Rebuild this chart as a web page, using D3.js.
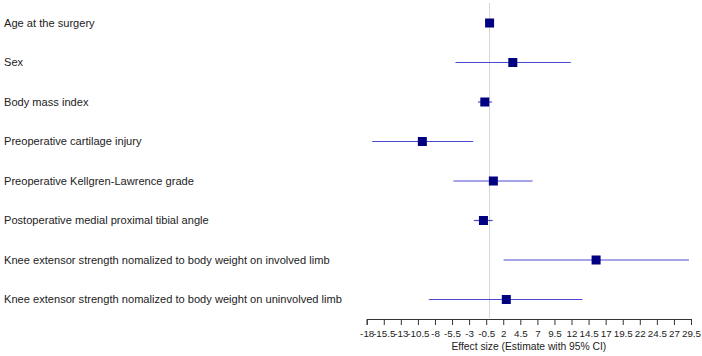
<!DOCTYPE html>
<html>
<head>
<meta charset="utf-8">
<script src="https://cdn.jsdelivr.net/npm/d3@7"></script>
<style>
  body { margin: 0; background: #fff; }
  text { font-family: "Liberation Sans", Arial, sans-serif; }
</style>
</head>
<body>
<div id="chart"></div>
<script>
// data
const labels = [
  "Age at the surgery",
  "Sex",
  "Body mass index",
  "Preoperative cartilage injury",
  "Preoperative Kellgren-Lawrence grade",
  "Postoperative medial proximal tibial angle",
  "Knee extensor strength nomalized to body weight on involved limb",
  "Knee extensor strength nomalized to body weight on uninvolved limb"
];
const estimates = [0.0, 3.4, -0.7, -9.85, 0.55, -0.9, 15.6, 2.45];
const lower = [-0.1, -5.0, -1.7, -17.2, -5.3, -2.3, 2.05, -8.9];
const upper = [0.1, 11.9, 0.35, -2.4, 6.3, 0.45, 29.2, 13.6];
const tickValues = [-18, -15.5, -13, -10.5, -8, -5.5, -3, -0.5, 2, 4.5, 7, 9.5, 12, 14.5, 17, 19.5, 22, 24.5, 27, 29.5];

const width = 702, height = 356;

const svg = d3.select("#chart")
  .append("svg")
  .attr("width", width)
  .attr("height", height);

// scales
const x = d3.scaleLinear().domain([-18, 29.5]).range([366.7, 691]);
const y = d3.scalePoint().domain(labels).range([23, 299.5]);

// reference line at zero
svg.append("line")
  .attr("x1", x(0)).attr("x2", x(0))
  .attr("y1", 3).attr("y2", 318)
  .style("stroke", "#d4d4d4")
  .style("stroke-width", 1);

// row labels
svg.selectAll("text.lab")
  .data(labels)
  .enter()
  .append("text")
  .attr("class", "lab")
  .attr("x", 4)
  .attr("y", d => y(d))
  .attr("dy", "0.35em")
  .style("font-size", "11.1px")
  .style("fill", "#222")
  .text(d => d);

const rows = labels.map((d, i) => ({ label: d, est: estimates[i], lo: lower[i], hi: upper[i] }));

// confidence intervals
svg.selectAll("line.ci")
  .data(rows)
  .enter()
  .append("line")
  .attr("class", "ci")
  .attr("x1", d => x(d.lo))
  .attr("x2", d => x(d.hi))
  .attr("y1", d => y(d.label))
  .attr("y2", d => y(d.label))
  .style("stroke", "#4a4ad0")
  .style("stroke-width", 1.2);

// point estimates
const sq = 9;
svg.selectAll("rect.est")
  .data(rows)
  .enter()
  .append("rect")
  .attr("class", "est")
  .attr("x", d => x(d.est) - sq / 2)
  .attr("y", d => y(d.label) - sq / 2)
  .attr("width", sq)
  .attr("height", sq)
  .style("fill", "#000080");

// x axis
const axis = svg.append("g")
  .attr("transform", "translate(0,319)")
  .call(d3.axisBottom(x).tickValues(tickValues).tickFormat(d => d).tickSize(6).tickSizeOuter(6));
axis.selectAll("text")
  .style("font-size", "9.8px")
  .style("fill", "#222")
  .attr("y", 11);
axis.selectAll("line, path").style("stroke", "#333");

svg.append("text")
  .attr("x", (x(-18) + x(29.5)) / 2)
  .attr("y", 350)
  .attr("text-anchor", "middle")
  .style("font-size", "10.3px")
  .style("fill", "#222")
  .text("Effect size (Estimate with 95% CI)");
</script>
</body>
</html>
